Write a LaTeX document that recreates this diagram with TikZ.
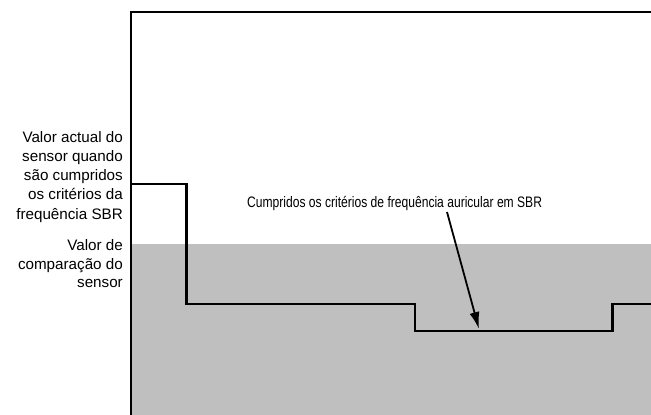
\documentclass[tikz,border=0pt]{standalone}
\usepackage{fontspec}
\setmainfont{Liberation Sans}
\usetikzlibrary{arrows.meta}
\definecolor{zone}{RGB}{191,191,191}
\tikzset{
  axisline/.style={line width=2.6pt, line join=miter},
  sigline/.style={line width=2.8pt, line join=miter},
  sidelbl/.style={font=\fontsize{15.2}{19}\selectfont, inner sep=0pt, anchor=base east},
  lbl/.style={font=\fontsize{15.2}{18}\selectfont, inner sep=0pt},
  pointer/.style={line width=1.8pt, -{Latex[length=17pt,width=10pt]}}
}
\begin{document}
\begin{tikzpicture}[x=1pt,y=-1pt]
\useasboundingbox (0,0) rectangle (651,415);
\fill[zone] (132,244) rectangle (651,415);
\draw[axisline] (652,12) -- (131,12) -- (131,416);
\draw[sigline] (131,184) -- (186.5,184) -- (186.5,304) -- (415,304) -- (415,331) -- (612.5,331) -- (612.5,304) -- (652,304);
\node[sidelbl] (v1) at (123,142) {Valor actual do};
\node[sidelbl] (v2) at (123,161) {sensor quando};
\node[sidelbl] (v3) at (123,180) {são cumpridos};
\node[sidelbl] (v4) at (123,199.5) {os critérios da};
\node[sidelbl] (v5) at (123,219) {frequência SBR};
\node[sidelbl] (c1) at (123,250) {Valor de};
\node[sidelbl] (c2) at (123,269) {comparação do};
\node[sidelbl] (c3) at (123,287.5) {sensor};
\node[lbl, anchor=base west] (crit) at (247,207) {\scalebox{0.795}[1]{Cumpridos os critérios de frequência auricular em SBR}};
\coordinate (astart) at (447,212);
\coordinate (tip) at (479,329);
\draw[pointer] (astart) -- (tip);
\end{tikzpicture}
\end{document}
